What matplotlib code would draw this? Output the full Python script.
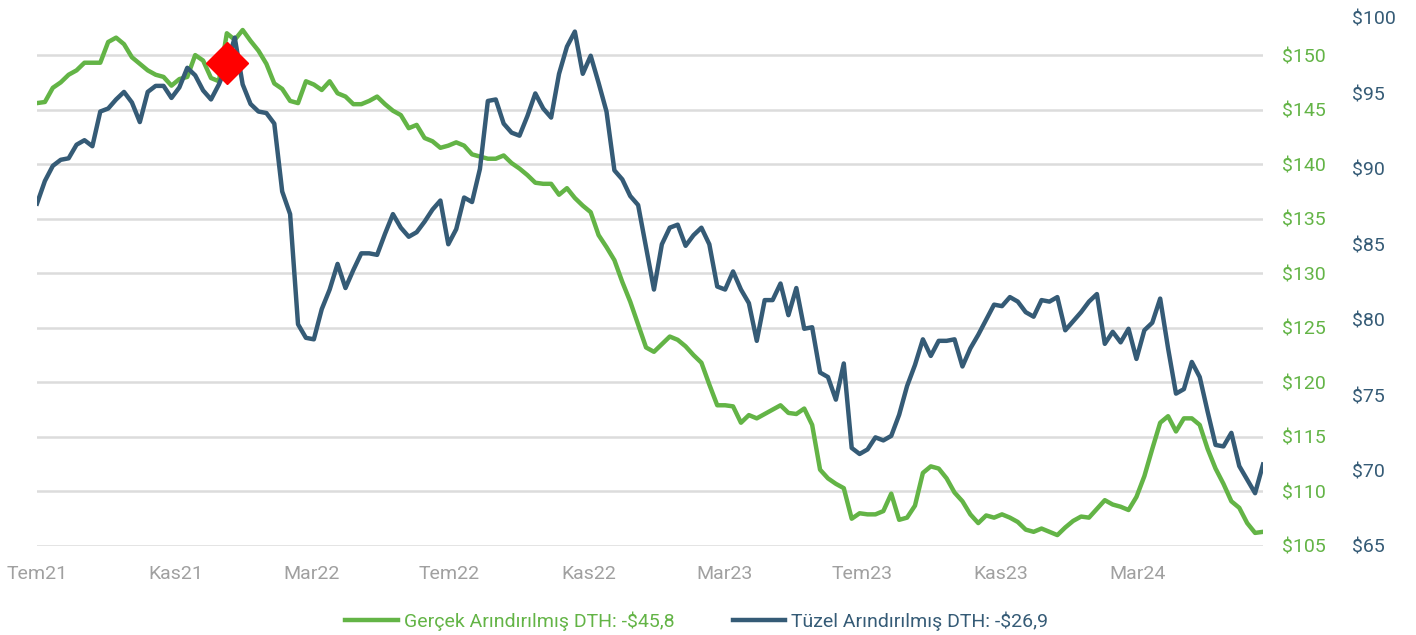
import numpy as np
import pandas as pd
import matplotlib
matplotlib.use('Agg')
import matplotlib.pyplot as plt

plt.rcParams['font.family'] = ['Roboto', 'DejaVu Sans']

# weekly series
weeks = pd.date_range('2021-07-01', periods=156, freq='7D')

real_dth = [
    145.6, 145.7, 147.0, 147.5, 148.2, 148.6, 149.3, 149.3, 149.3, 151.2,
    151.6, 151.0, 149.8, 149.2, 148.6, 148.2, 148.0, 147.2, 147.8, 148.0,
    150.0, 149.5, 147.9, 147.6, 152.0, 151.4, 152.3, 151.3, 150.4, 149.2,
    147.4, 146.9, 145.8, 145.6, 147.6, 147.3, 146.8, 147.6, 146.5, 146.2,
    145.5, 145.5, 145.8, 146.2, 145.5, 144.9, 144.5, 143.3, 143.6, 142.4,
    142.1, 141.5, 141.7, 142.0, 141.7, 140.9, 140.7, 140.5, 140.5, 140.8,
    140.1, 139.6, 139.0, 138.3, 138.2, 138.2, 137.2, 137.8, 136.9, 136.2,
    135.6, 133.5, 132.4, 131.2, 129.2, 127.4, 125.3, 123.2, 122.8, 123.5,
    124.2, 123.9, 123.3, 122.5, 121.8, 119.8, 117.9, 117.9, 117.8, 116.3,
    117.0, 116.7, 117.1, 117.5, 117.9, 117.2, 117.1, 117.6, 116.1, 112.0,
    111.2, 110.7, 110.3, 107.5, 108.0, 107.9, 107.9, 108.2, 109.8, 107.4,
    107.6, 108.7, 111.7, 112.3, 112.1, 111.2, 109.9, 109.1, 107.9, 107.1,
    107.8, 107.6, 107.9, 107.6, 107.2, 106.5, 106.3, 106.6, 106.3, 106.0,
    106.7, 107.3, 107.7, 107.6, 108.4, 109.2, 108.8, 108.6, 108.3, 109.5,
    111.4, 113.9, 116.3, 116.9, 115.5, 116.7, 116.7, 116.1, 113.9, 112.1,
    110.7, 109.1, 108.5, 107.1, 106.2, 106.3,
]

legal_dth = [
    87.7, 89.2, 90.2, 90.6, 90.7, 91.6, 91.9, 91.5, 93.8, 94.0,
    94.6, 95.1, 94.4, 93.1, 95.1, 95.5, 95.5, 94.7, 95.4, 96.7,
    96.2, 95.2, 94.6, 95.6, 96.9, 98.7, 95.6, 94.3, 93.8, 93.7,
    93.0, 88.5, 87.0, 79.7, 78.8, 78.7, 80.7, 82.0, 83.7, 82.1,
    83.3, 84.4, 84.4, 84.3, 85.7, 87.0, 86.1, 85.5, 85.8, 86.5,
    87.3, 87.9, 85.0, 86.0, 88.1, 87.8, 90.0, 94.5, 94.6, 93.0,
    92.4, 92.2, 93.5, 95.0, 94.0, 93.4, 96.3, 98.1, 99.1, 96.3,
    97.5, 95.7, 93.8, 89.9, 89.3, 88.2, 87.6, 84.8, 82.0, 85.0,
    86.1, 86.3, 84.9, 85.6, 86.1, 85.0, 82.2, 82.0, 83.2, 82.0,
    81.1, 78.6, 81.3, 81.3, 82.4, 80.3, 82.1, 79.4, 79.5, 76.5,
    76.2, 74.7, 77.1, 71.5, 71.1, 71.4, 72.2, 72.0, 72.3, 73.7,
    75.6, 77.0, 78.7, 77.6, 78.6, 78.6, 78.7, 76.9, 78.1, 79.0,
    80.0, 81.0, 80.9, 81.5, 81.2, 80.5, 80.2, 81.3, 81.2, 81.5,
    79.3, 79.9, 80.5, 81.2, 81.7, 78.4, 79.2, 78.5, 79.4, 77.4,
    79.3, 79.8, 81.4, 78.1, 75.1, 75.4, 77.2, 76.2, 73.9, 71.7,
    71.6, 72.5, 70.3, 69.4, 68.5, 70.4,
]

tick_dates = pd.to_datetime(['2021-07-01', '2021-11-01', '2022-03-01',
                             '2022-07-01', '2022-11-01', '2023-03-01',
                             '2023-07-01', '2023-11-01', '2024-03-01'])
tick_labels = ['Tem21', 'Kas21', 'Mar22', 'Tem22', 'Kas22', 'Mar23',
               'Tem23', 'Kas23', 'Mar24']
green_ticks = list(range(105, 151, 5))
blue_ticks = list(range(65, 101, 5))

marker_date = pd.Timestamp('2021-12-16')
marker_value = 149.3

real_label = 'Gerçek Arındırılmış DTH: -$45,8'
legal_label = 'Tüzel Arındırılmış DTH: -$26,9'

GREEN = '#63b446'
BLUE = '#355b76'

fig = plt.figure(figsize=(14.16, 6.35), dpi=100)
ax = fig.add_axes([37/1416, 1 - 546/635, (1263 - 37)/1416, (546 - 18)/635])
ax2 = ax.twinx()

l1, = ax.plot(weeks, real_dth, color=GREEN, lw=3.2, solid_joinstyle='round',
              label=real_label)
l2, = ax2.plot(weeks, legal_dth, color=BLUE, lw=3.2, solid_joinstyle='round',
               label=legal_label)
ax2.plot([marker_date], [marker_value], transform=ax.transData, marker='D',
         ms=21, color='#ff0000', mec='#ff0000', zorder=10)

ax.set_xlim(weeks[0], weeks[-1])
ax.set_ylim(105, 153.4)
ax2.set_ylim(65, 100)

ax.set_yticks(green_ticks)
ax.set_yticklabels(['${}'.format(v) for v in green_ticks])
ax2.set_yticks(blue_ticks)
ax2.set_yticklabels(['${}'.format(v) for v in blue_ticks])
ax.yaxis.tick_right()

ax.set_xticks(tick_dates)
ax.set_xticklabels(tick_labels)

ax.grid(axis='y', color='#dcdcdc', lw=1.8)
ax.set_axisbelow(True)

for a in (ax, ax2):
    for s in a.spines.values():
        s.set_visible(False)

ax.tick_params(axis='y', length=0, pad=14, labelsize=14, labelcolor=GREEN)
ax2.tick_params(axis='y', length=0, pad=64, labelsize=14, labelcolor=BLUE)
ax.tick_params(axis='x', length=0, pad=14, labelsize=14, labelcolor='#a0a0a0')

leg = fig.legend(handles=[l1, l2], loc='center', bbox_to_anchor=(0.492, 1 - 621/635),
                 ncol=2, frameon=False, fontsize=14, handlelength=2.7,
                 handletextpad=0.3, columnspacing=3.0)
for t, c in zip(leg.get_texts(), [GREEN, BLUE]):
    t.set_color(c)

fig.savefig('out.png', dpi=100)
